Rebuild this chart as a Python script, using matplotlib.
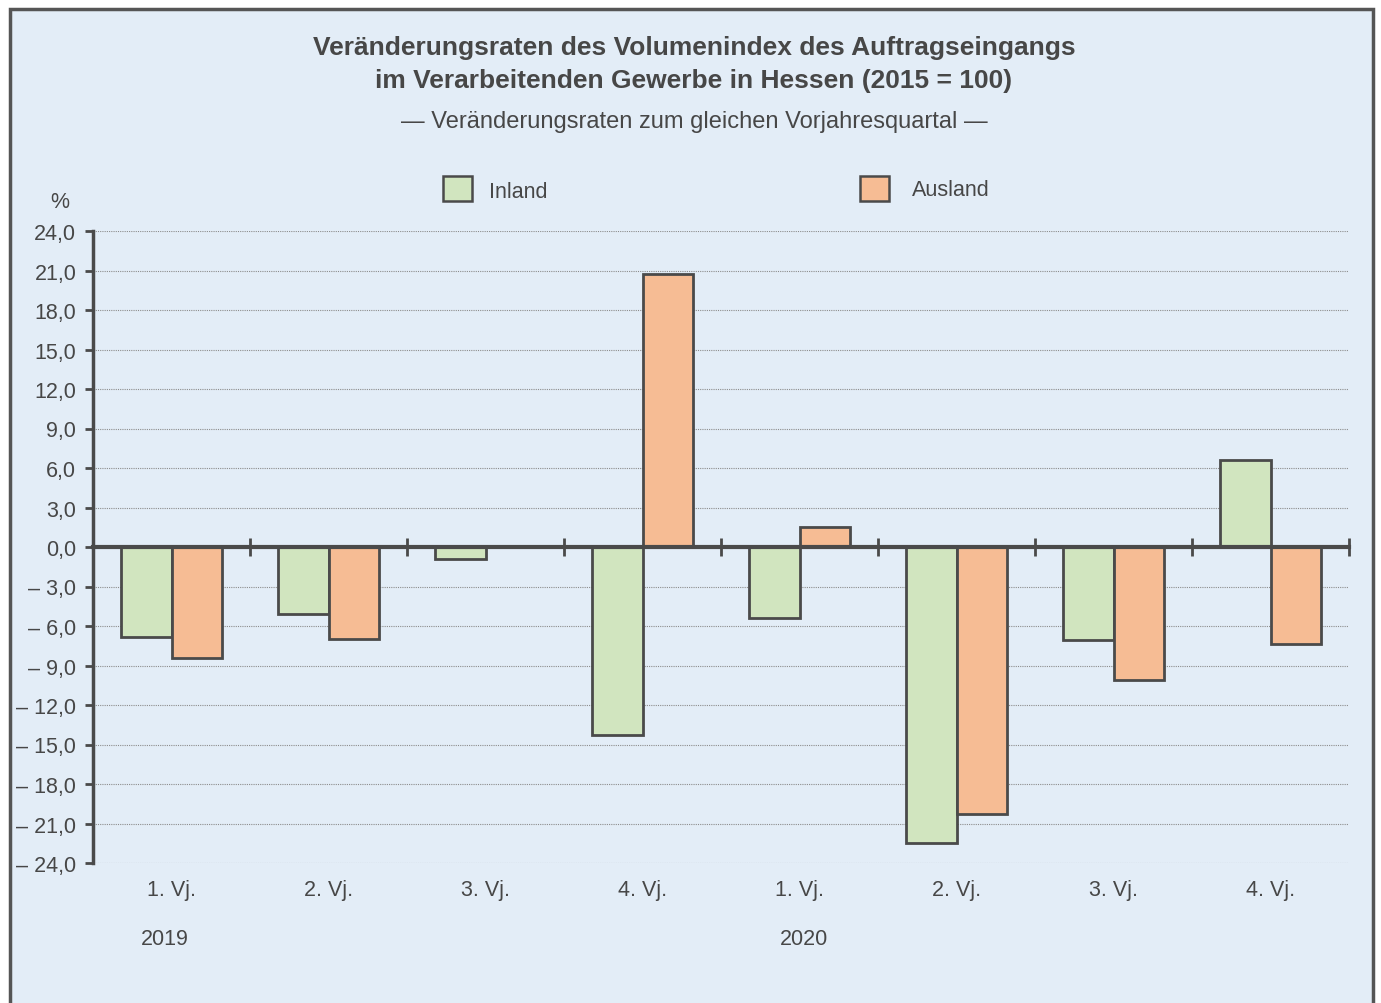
import numpy as np
import matplotlib.pyplot as plt
from matplotlib.patches import Rectangle

plt.rcParams["font.family"] = ["Liberation Sans", "DejaVu Sans"]

quarters = ["1. Vj.", "2. Vj.", "3. Vj.", "4. Vj.", "1. Vj.", "2. Vj.", "3. Vj.", "4. Vj."]
years = ["2019", "2020"]
year_pos = [-0.04, 4.03]
inland = [-6.8, -5.1, -0.9, -14.3, -5.4, -22.5, -7.1, 6.6]
ausland = [-8.4, -7.0, 0.0, 20.7, 1.5, -20.3, -10.1, -7.4]
yticks = np.arange(-24, 25, 3)

txt = "#474747"
edge = "#4a4a4a"
bg = "#e3edf7"
c_in = "#d1e5bf"
c_aus = "#f6bc94"
fs = 15.5

fig = plt.figure(figsize=(13.81, 10.04), dpi=100)
fig.patch.set_facecolor("white")
# frame
fig.patches.append(Rectangle((10 / 1381, -0.02), 1363 / 1381, 1.02 - 10 / 1004,
                             transform=fig.transFigure, facecolor=bg,
                             edgecolor="#555555", lw=2.5, zorder=-5))

ax = fig.add_axes([93 / 1381, 140 / 1004, 1256 / 1381, 632 / 1004])
ax.set_facecolor("none")

x = np.arange(len(quarters))
w = 0.32
ax.bar(x - w / 2, inland, w, color=c_in, edgecolor=edge, lw=2, zorder=3)
ax.bar(x + w / 2, ausland, w, color=c_aus, edgecolor=edge, lw=2, zorder=3)

ax.set_xlim(-0.5, 7.5)
ax.set_ylim(-24, 24)
ax.set_yticks(yticks)
ax.set_yticklabels([f"{v:.1f}".replace(".", ",") if v >= 0 else
                    "– " + f"{abs(v):.1f}".replace(".", ",") for v in yticks],
                   fontsize=fs, color=txt)
ax.tick_params(axis="y", direction="out", length=6, width=2, color=edge, pad=6)
ax.yaxis.grid(True, linestyle=(0, (1, 1)), color="#8c8c8c", lw=0.8)
ax.set_axisbelow(True)

for s in ["top", "right"]:
    ax.spines[s].set_visible(False)
ax.spines["left"].set_color(edge)
ax.spines["left"].set_linewidth(2.5)
ax.spines["bottom"].set_position(("data", 0))
ax.spines["bottom"].set_color(edge)
ax.spines["bottom"].set_linewidth(3)
ax.spines["bottom"].set_zorder(4)
ax.set_xticks(np.arange(0.5, 8, 1))
ax.set_xticklabels([])
ax.tick_params(axis="x", direction="inout", length=13, width=2, color=edge)

for i, q in enumerate(quarters):
    ax.annotate(q, (i, 113), xycoords=("data", "figure pixels"), ha="center",
                va="center", fontsize=fs, color=txt)
for yr, p in zip(years, year_pos):
    ax.annotate(yr, (p, 64), xycoords=("data", "figure pixels"), ha="center",
                va="center", fontsize=fs, color=txt)

fig.text(60 / 1381, 1 - 203 / 1004, "%", ha="center", va="center", fontsize=fs, color=txt)

fig.text(0.5025, 1 - 48 / 1004, "Veränderungsraten des Volumenindex des Auftragseingangs",
         ha="center", va="center", fontsize=19, fontweight="bold", color=txt)
fig.text(0.5025, 1 - 81 / 1004, "im Verarbeitenden Gewerbe in Hessen (2015 = 100)",
         ha="center", va="center", fontsize=19, fontweight="bold", color=txt)
fig.text(0.5025, 1 - 122 / 1004, "— Veränderungsraten zum gleichen Vorjahresquartal —",
         ha="center", va="center", fontsize=17, color=txt)

# legend
for px, col in [(443, c_in), (860, c_aus)]:
    fig.patches.append(Rectangle((px / 1381, 1 - 202 / 1004), 29 / 1381, 25 / 1004,
                                 transform=fig.transFigure, facecolor=col,
                                 edgecolor=edge, lw=1.8, zorder=2))
fig.text(489 / 1381, 1 - 193 / 1004, "Inland", ha="left", va="center", fontsize=fs, color=txt)
fig.text(912 / 1381, 1 - 191 / 1004, "Ausland", ha="left", va="center", fontsize=fs, color=txt)

fig.savefig("out.png", dpi=100)
